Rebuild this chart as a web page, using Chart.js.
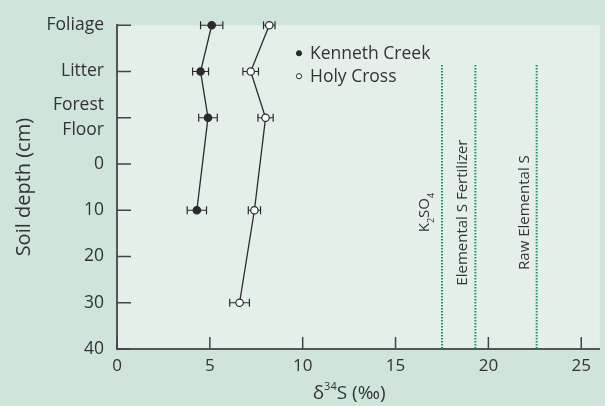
<!DOCTYPE html>
<html>
<head>
<meta charset="utf-8">
<script src="https://cdn.jsdelivr.net/npm/chart.js@4.4.0/dist/chart.umd.min.js"></script>
<style>
  html, body { margin: 0; padding: 0; background: #cfe4da; }
  canvas { display: block; }
</style>
</head>
<body>
<canvas id="chart" width="605" height="406"></canvas>
<script>
// Depth positions (top to bottom) and x tick values
const depthLabels = ['Foliage', 'Litter', 'Forest Floor', '0', '10', '20', '30', '40'];
const xTicks = [0, 5, 10, 15, 20, 25];

// Kenneth Creek: δ34S (‰) with ± error
const kennethDepth = ['Foliage', 'Litter', 'Forest Floor', '10'];
const kennethD34S = [5.1, 4.5, 4.9, 4.3];
const kennethErr = [0.6, 0.43, 0.5, 0.52];

// Holy Cross: δ34S (‰) with ± error
const holyDepth = ['Foliage', 'Litter', 'Forest Floor', '10', '30'];
const holyD34S = [8.2, 7.2, 8.0, 7.4, 6.6];
const holyErr = [0.31, 0.42, 0.41, 0.33, 0.53];

// Fertilizer source signatures
const sourceLabels = ['K₂SO₄', 'Elemental S Fertilizer', 'Raw Elemental S'];
const sourceD34S = [17.5, 19.3, 22.6];

const FONT = "'Open Sans', sans-serif";
const INK = '#333333';
const MARK = '#2a2a2a';
const GREEN = '#16975a';
const SOURCE_TOP = 0.86;      // depth index where source lines begin
const SOURCE_LABEL_MID = 4.05; // depth index for label centres

const depthIndex = d => depthLabels.indexOf(d);
const toPoints = (depths, vals) => vals.map((v, i) => ({ x: v, y: depthIndex(depths[i]) }));

const SUB = '₀₁₂₃₄₅₆₇₈₉', SUP = '⁰¹²³⁴⁵⁶⁷⁸⁹';
function runsOf(text) {
  const runs = [];
  for (const ch of text) {
    let kind = 'n', c = ch;
    if (SUB.includes(ch)) { kind = 'sub'; c = String(SUB.indexOf(ch)); }
    else if (SUP.includes(ch)) { kind = 'sup'; c = String(SUP.indexOf(ch)); }
    const last = runs[runs.length - 1];
    if (last && last.kind === kind) last.t += c; else runs.push({ kind, t: c });
  }
  return runs;
}
function scriptedWidth(ctx, runs, size) {
  let w = 0;
  for (const r of runs) {
    ctx.font = (r.kind === 'n' ? size : Math.round(size * 0.6)) + 'px ' + FONT;
    w += ctx.measureText(r.t).width;
  }
  return w;
}
// Draws text with sub/superscript digits, centred on x, baseline at y
function drawScripted(ctx, text, x, y, size) {
  const runs = runsOf(text);
  let cx = x - scriptedWidth(ctx, runs, size) / 2;
  ctx.textAlign = 'left';
  ctx.textBaseline = 'alphabetic';
  for (const r of runs) {
    const s = r.kind === 'n' ? size : Math.round(size * 0.6);
    ctx.font = s + 'px ' + FONT;
    const dy = r.kind === 'sub' ? size * 0.3 : r.kind === 'sup' ? -size * 0.45 : 0;
    ctx.fillText(r.t, cx, y + dy);
    cx += ctx.measureText(r.t).width;
  }
}

const decor = {
  id: 'decor',
  beforeDraw(chart) {
    const { ctx, chartArea: a } = chart;
    ctx.save();
    ctx.fillStyle = '#e4efea';
    ctx.fillRect(a.left, a.top, a.right - a.left, a.bottom - a.top);
    ctx.restore();
  },
  beforeDatasetsDraw(chart) {
    const { ctx, scales: { x, y } } = chart;
    const sets = [[kennethDepth, kennethD34S, kennethErr], [holyDepth, holyD34S, holyErr]];
    ctx.save();
    ctx.strokeStyle = MARK;
    ctx.lineWidth = 1.2;
    for (const [depths, vals, errs] of sets) {
      vals.forEach((v, i) => {
        const py = y.getPixelForValue(depthIndex(depths[i]));
        const x0 = x.getPixelForValue(v - errs[i]);
        const x1 = x.getPixelForValue(v + errs[i]);
        ctx.beginPath();
        ctx.moveTo(x0, py); ctx.lineTo(x1, py);
        ctx.moveTo(x0, py - 4); ctx.lineTo(x0, py + 4);
        ctx.moveTo(x1, py - 4); ctx.lineTo(x1, py + 4);
        ctx.stroke();
      });
    }
    ctx.restore();
  },
  afterDraw(chart) {
    const { ctx, chartArea: a, scales: { x, y } } = chart;
    ctx.save();
    // inward tick marks
    ctx.strokeStyle = '#444';
    ctx.lineWidth = 1.5;
    ctx.beginPath();
    depthLabels.forEach((_, i) => {
      const py = y.getPixelForValue(i);
      ctx.moveTo(a.left, py); ctx.lineTo(a.left + 14, py);
    });
    xTicks.forEach(v => {
      const px = x.getPixelForValue(v);
      ctx.moveTo(px, a.bottom); ctx.lineTo(px, a.bottom - 12);
    });
    ctx.stroke();

    ctx.fillStyle = INK;
    // source labels, rotated, beside their lines
    sourceLabels.forEach((lab, i) => {
      const px = x.getPixelForValue(sourceD34S[i]);
      const hasSub = [...lab].some(c => SUB.includes(c));
      const base = px - 8 - (hasSub ? 4.5 : 0);
      ctx.save();
      ctx.translate(base, y.getPixelForValue(SOURCE_LABEL_MID));
      ctx.rotate(-Math.PI / 2);
      drawScripted(ctx, lab, 0, 0, 15);
      ctx.restore();
    });

    // x axis title
    const midX = (x.getPixelForValue(xTicks[0]) + x.getPixelForValue(xTicks[xTicks.length - 1])) / 2;
    drawScripted(ctx, 'δ³⁴S (‰)', midX, 399, 19);

    // y axis title
    ctx.save();
    ctx.translate(24, (a.top + a.bottom) / 2);
    ctx.rotate(-Math.PI / 2);
    ctx.font = '20px ' + FONT;
    ctx.textAlign = 'center';
    ctx.textBaseline = 'middle';
    ctx.fillText('Soil depth (cm)', 0, 0);
    ctx.restore();

    // legend
    const lx = a.left + 182;
    const rows = [
      { name: 'Kenneth Creek', fill: MARK, yy: 51 },
      { name: 'Holy Cross', fill: '#ffffff', yy: 74 }
    ];
    rows.forEach(r => {
      ctx.beginPath();
      ctx.arc(lx, a.top + r.yy - 23, 2.6, 0, Math.PI * 2);
      ctx.fillStyle = r.fill;
      ctx.fill();
      ctx.strokeStyle = MARK;
      ctx.lineWidth = 1;
      ctx.stroke();
      ctx.fillStyle = INK;
      ctx.font = '17.5px ' + FONT;
      ctx.textAlign = 'left';
      ctx.textBaseline = 'middle';
      ctx.fillText(r.name, lx + 11, a.top + r.yy - 22);
    });
    ctx.restore();
  }
};

const seriesStyle = {
  showLine: true,
  clip: false,
  borderColor: MARK,
  borderWidth: 1.3,
  pointRadius: 3.7,
  pointBorderColor: MARK,
  pointBorderWidth: 1.2
};

const sourceSets = sourceD34S.map((v, i) => ({
  label: sourceLabels[i],
  type: 'line',
  data: [{ x: v, y: SOURCE_TOP }, { x: v, y: depthLabels.length - 1 }],
  borderColor: GREEN,
  borderWidth: 2,
  borderDash: [1.5, 1.5],
  pointRadius: 0,
  fill: false
}));

new Chart(document.getElementById('chart'), {
  type: 'scatter',
  data: {
    datasets: [
      Object.assign({ label: 'Kenneth Creek', data: toPoints(kennethDepth, kennethD34S), pointBackgroundColor: MARK }, seriesStyle),
      Object.assign({ label: 'Holy Cross', data: toPoints(holyDepth, holyD34S), pointBackgroundColor: '#ffffff' }, seriesStyle),
      ...sourceSets
    ]
  },
  options: {
    responsive: false,
    devicePixelRatio: 1,
    animation: false,
    events: [],
    layout: { padding: { top: 23, right: 0, left: 0, bottom: 0 } },
    plugins: { legend: { display: false }, tooltip: { enabled: false } },
    scales: {
      x: {
        type: 'linear',
        min: 0,
        max: 26,
        afterBuildTicks: s => { s.ticks = xTicks.map(v => ({ value: v })); },
        afterFit: s => { s.height = 57; },
        grid: { display: false, drawTicks: false },
        border: { display: true, color: '#555', width: 2 },
        ticks: { color: INK, font: { family: FONT, size: 17 }, padding: 7, maxRotation: 0, autoSkip: false }
      },
      y: {
        type: 'linear',
        min: 0,
        max: depthLabels.length - 1,
        reverse: true,
        afterBuildTicks: s => { s.ticks = depthLabels.map((_, i) => ({ value: i })); },
        afterFit: s => { s.width = 117; },
        grid: { display: false, drawTicks: false },
        border: { display: true, color: '#555', width: 2 },
        ticks: {
          color: INK,
          padding: 13,
          autoSkip: false,
          font: { family: FONT, size: 17.5, lineHeight: 1.4 },
          callback: v => {
            const l = depthLabels[v];
            return l.includes(' ') ? l.split(' ') : l;
          }
        }
      }
    }
  },
  plugins: [decor]
});
</script>
</body>
</html>
